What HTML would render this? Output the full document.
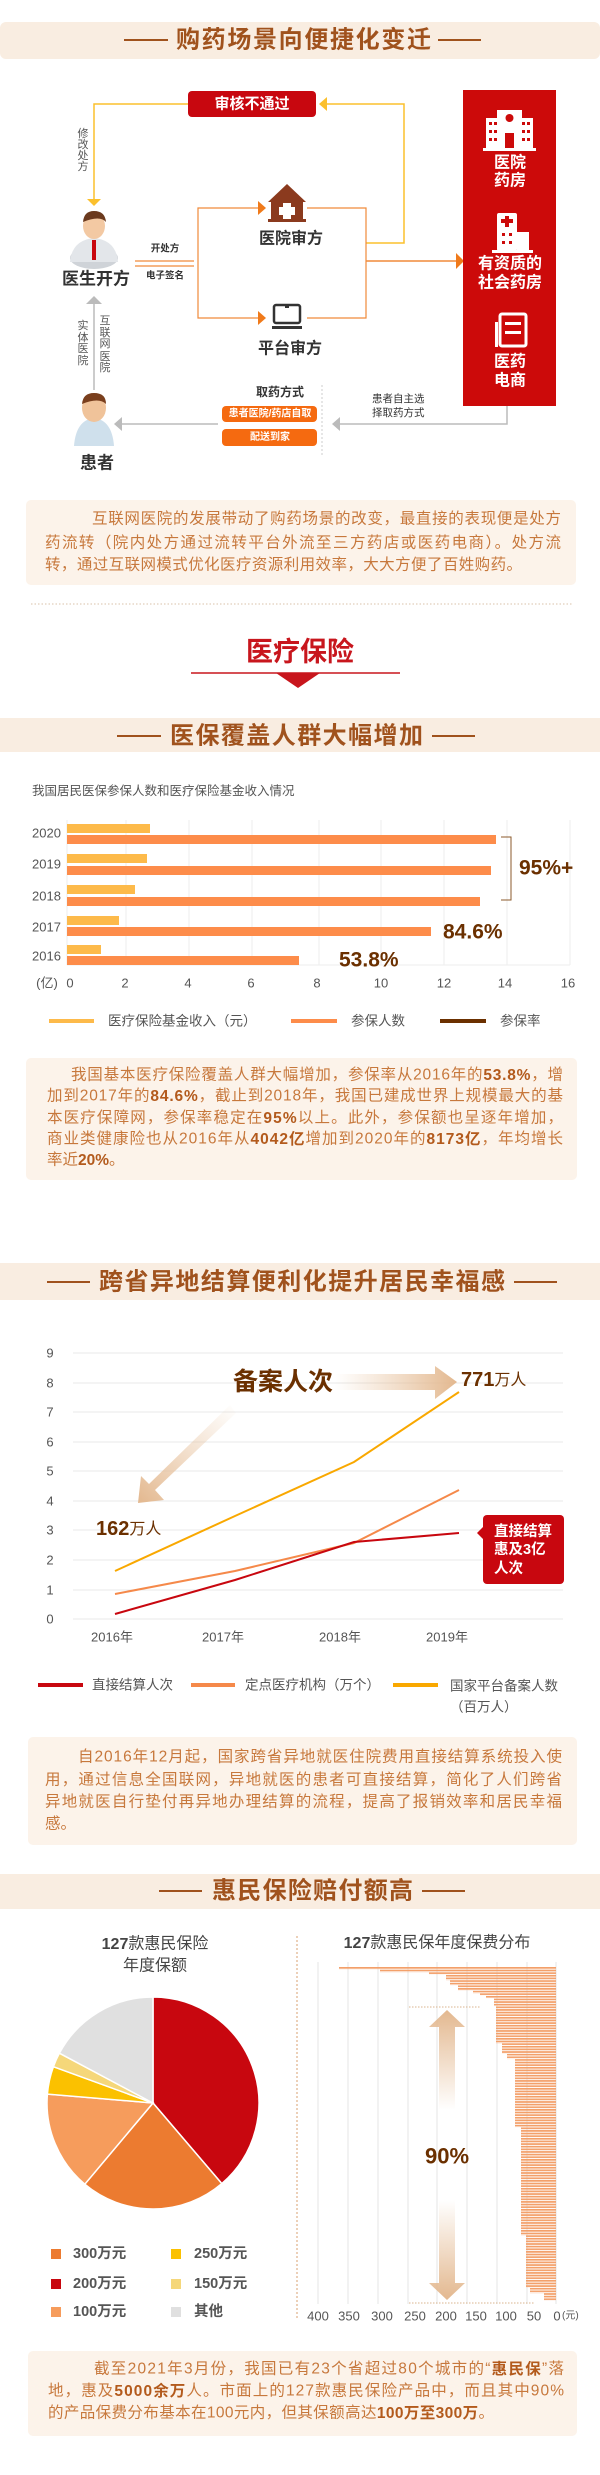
<!DOCTYPE html>
<html><head><meta charset="utf-8">
<style>
html,body{margin:0;padding:0;background:#fff;}
svg{display:block;}
text{font-family:"Liberation Sans","Noto Sans CJK SC",sans-serif;}
.h{font-weight:bold;fill:#a0521d;font-size:24px;}
.p{fill:#c7783c;font-size:15.5px;}
.b{font-weight:bold;fill:#b35a1c;}
.g{fill:#555;}
</style></head>
<body>
<svg width="600" height="2475" viewBox="0 0 600 2475" xmlns="http://www.w3.org/2000/svg" dominant-baseline="central">
<defs>
<pattern id="st" patternUnits="userSpaceOnUse" x="0" y="1967" width="10" height="2.63"><rect x="0" y="0" width="10" height="1.7" fill="#f3a06a"/></pattern>
<linearGradient id="ga" x1="0" x2="1" y1="0" y2="0"><stop offset="0" stop-color="#e8c4a0" stop-opacity="0"/><stop offset="1" stop-color="#e3b88f"/></linearGradient>
<linearGradient id="gd" x1="1" y1="0" x2="0" y2="1"><stop offset="0" stop-color="#e8c4a0" stop-opacity="0"/><stop offset="1" stop-color="#e3b88f"/></linearGradient>
<linearGradient id="gu" x1="0" y1="0" x2="0" y2="1"><stop offset="0" stop-color="#e3b88f"/><stop offset="1" stop-color="#e3b88f" stop-opacity="0"/></linearGradient>
<linearGradient id="gdn" x1="0" y1="1" x2="0" y2="0"><stop offset="0" stop-color="#e3b88f"/><stop offset="1" stop-color="#e3b88f" stop-opacity="0"/></linearGradient>
</defs>

<!-- ========== SECTION 1 ========== -->
<rect x="0" y="22" width="600" height="37" rx="6" fill="#f9ede1"/>
<line x1="124" y1="40" x2="168" y2="40" stroke="#a0521d" stroke-width="2"/>
<line x1="438" y1="40" x2="481" y2="40" stroke="#a0521d" stroke-width="2"/>
<text class="h" x="176" y="40" textLength="255" lengthAdjust="spacing">购药场景向便捷化变迁</text>

<polyline points="188,104 94,104 94,199" fill="none" stroke="#fbc02d" stroke-width="1.5"/>
<polygon points="87,199 101,199 94,206" fill="#fbc02d"/>
<polyline points="327,104 404,104 404,243 366,243" fill="none" stroke="#fbc02d" stroke-width="1.5"/>
<polygon points="319,104 327,97 327,111" fill="#fbc02d"/>
<rect x="188" y="91" width="128" height="26" rx="4" fill="#c8070f"/>
<text x="252" y="104" text-anchor="middle" font-size="15" font-weight="bold" fill="#fff">审核不通过</text>
<g font-size="11" class="g" text-anchor="middle">
<text x="83" y="134">修</text><text x="83" y="145">改</text><text x="83" y="156">处</text><text x="83" y="167">方</text>
<text x="83" y="326">实</text><text x="83" y="338">体</text><text x="83" y="349">医</text><text x="83" y="361">院</text>
<text x="105" y="321">互</text><text x="105" y="333">联</text><text x="105" y="344">网</text><text x="105" y="357">医</text><text x="105" y="368">院</text>
</g>

<ellipse cx="94" cy="258" rx="24" ry="11" fill="#cfd3d8"/>
<path d="M70,262 Q72,240 94,238 Q116,240 118,262 Z" fill="#e3e6ea"/>
<rect x="92" y="240" width="4" height="20" fill="#c8070f"/>
<ellipse cx="94" cy="226" rx="11" ry="13" fill="#f3c9a3"/>
<path d="M83,222 Q84,211 94,211 Q105,211 106,222 Q100,215 83,222Z" fill="#6b3a1e"/>
<text x="96" y="279" font-size="17" font-weight="bold" fill="#333" text-anchor="middle">医生开方</text>
<line x1="135" y1="261" x2="194" y2="261" stroke="#f08a3a" stroke-width="1.2"/>
<line x1="135" y1="266" x2="194" y2="266" stroke="#f08a3a" stroke-width="1.2"/>
<text x="165" y="249" font-size="9.5" fill="#333" text-anchor="middle" font-weight="bold">开处方</text>
<text x="165" y="276" font-size="9.5" fill="#333" text-anchor="middle" font-weight="bold">电子签名</text>

<polyline points="258,208 198,208 198,318 258,318" fill="none" stroke="#f08a3a" stroke-width="1.2"/>
<polyline points="307,208 366,208 366,318 307,318" fill="none" stroke="#f08a3a" stroke-width="1.2"/>
<polygon points="258,201 266,208 258,215" fill="#f07a1a"/>
<polygon points="258,311 266,318 258,325" fill="#f07a1a"/>
<polygon points="287,184 268,202 306,202" fill="#8b3a1e"/>
<rect x="271" y="200" width="32" height="20" fill="#8b3a1e"/>
<rect x="268" y="219" width="38" height="3" fill="#8b3a1e"/>
<rect x="283" y="203" width="8" height="16" fill="#fff"/><rect x="279" y="207" width="16" height="8" fill="#fff"/>
<text x="291" y="239" font-size="16" font-weight="bold" fill="#333" text-anchor="middle">医院审方</text>
<rect x="274" y="305" width="26" height="18" rx="2" fill="none" stroke="#333" stroke-width="2.5"/>
<rect x="272" y="326" width="30" height="3" fill="#333"/>
<rect x="285" y="306" width="4" height="2" fill="#333"/>
<text x="290" y="349" font-size="16" font-weight="bold" fill="#333" text-anchor="middle">平台审方</text>
<line x1="366" y1="261" x2="456" y2="261" stroke="#f08a3a" stroke-width="1.5"/>
<polygon points="456,253 464,261 456,269" fill="#f07a1a"/>

<rect x="463" y="90" width="93" height="316" fill="#cc0a0a"/>
<g fill="#fff">
<rect x="486" y="118" width="14" height="30"/><rect x="519" y="118" width="14" height="30"/>
<rect x="497" y="110" width="25" height="38"/><rect x="483" y="148" width="53" height="3"/>
</g>
<rect x="505" y="133" width="9" height="15" fill="#cc0a0a"/>
<circle cx="509.5" cy="118" r="4" fill="#cc0a0a"/>
<g fill="#cc0a0a"><rect x="489" y="122" width="3" height="3"/><rect x="494" y="122" width="3" height="3"/><rect x="489" y="130" width="3" height="3"/><rect x="494" y="130" width="3" height="3"/><rect x="489" y="138" width="3" height="3"/><rect x="494" y="138" width="3" height="3"/><rect x="522" y="122" width="3" height="3"/><rect x="527" y="122" width="3" height="3"/><rect x="522" y="130" width="3" height="3"/><rect x="527" y="130" width="3" height="3"/><rect x="522" y="138" width="3" height="3"/><rect x="527" y="138" width="3" height="3"/></g>
<text x="510" y="163" font-size="16" font-weight="bold" fill="#fff" text-anchor="middle">医院</text>
<text x="510" y="181" font-size="16" font-weight="bold" fill="#fff" text-anchor="middle">药房</text>
<rect x="497" y="213" width="20" height="38" rx="2" fill="#fff"/>
<rect x="517" y="232" width="12" height="19" fill="#fff"/>
<rect x="492" y="250" width="41" height="3" fill="#fff"/>
<rect x="505" y="216" width="4" height="11" fill="#cc0a0a"/><rect x="501" y="219" width="12" height="4" fill="#cc0a0a"/>
<g fill="#cc0a0a"><rect x="502" y="233" width="3" height="3"/><rect x="509" y="233" width="3" height="3"/><rect x="502" y="241" width="3" height="3"/><rect x="509" y="241" width="3" height="3"/></g>
<text x="510" y="264" font-size="16" font-weight="bold" fill="#fff" text-anchor="middle">有资质的</text>
<text x="510" y="283" font-size="16" font-weight="bold" fill="#fff" text-anchor="middle">社会药房</text>
<rect x="500" y="314" width="26" height="32" rx="2" fill="none" stroke="#fff" stroke-width="3"/>
<rect x="495" y="322" width="3" height="25" fill="#fff"/>
<rect x="505" y="322" width="16" height="3" fill="#fff"/><rect x="505" y="331" width="16" height="3" fill="#fff"/>
<text x="510" y="362" font-size="16" font-weight="bold" fill="#fff" text-anchor="middle">医药</text>
<text x="510" y="381" font-size="16" font-weight="bold" fill="#fff" text-anchor="middle">电商</text>

<line x1="94" y1="390" x2="94" y2="304" stroke="#bbb" stroke-width="1.5"/>
<polygon points="86,304 94,296 102,304" fill="#bbb"/>
<path d="M74,446 Q76,420 94,418 Q112,420 114,446Z" fill="#cfe0ec"/>
<ellipse cx="94" cy="408" rx="12" ry="14" fill="#f0c39a"/>
<path d="M82,404 Q83,393 94,393 Q106,393 106,404 Q99,397 82,404Z" fill="#7a3f1d"/>
<text x="97" y="463" font-size="17" font-weight="bold" fill="#333" text-anchor="middle">患者</text>
<text x="280" y="392" font-size="12" font-weight="bold" fill="#333" text-anchor="middle">取药方式</text>
<rect x="222" y="406" width="95" height="16" rx="4" fill="#f56a10"/>
<text x="270" y="414" font-size="10" fill="#fff" text-anchor="middle" font-weight="bold">患者医院/药店自取</text>
<rect x="222" y="429" width="95" height="17" rx="4" fill="#f56a10"/>
<text x="270" y="437.5" font-size="10" fill="#fff" text-anchor="middle" font-weight="bold">配送到家</text>
<line x1="322" y1="385" x2="322" y2="457" stroke="#ccc" stroke-dasharray="2,2"/>
<polyline points="507,406 507,424 340,424" fill="none" stroke="#bbb" stroke-width="1.5"/>
<polygon points="340,417 332,424 340,431" fill="#bbb"/>
<line x1="218" y1="424" x2="122" y2="424" stroke="#bbb" stroke-width="1.5"/>
<polygon points="122,417 114,424 122,431" fill="#bbb"/>
<text x="372" y="399" font-size="10.5" fill="#333">患者自主选</text>
<text x="372" y="413" font-size="10.5" fill="#333">择取药方式</text>

<rect x="26" y="500" width="550" height="85" rx="5" fill="#fcf3ea"/>
<text class="p" x="92" y="519" textLength="469" lengthAdjust="spacing">互联网医院的发展带动了购药场景的改变，最直接的表现便是处方</text>
<text class="p" x="45" y="543" textLength="516" lengthAdjust="spacing">药流转（院内处方通过流转平台外流至三方药店或医药电商）。处方流</text>
<text class="p" x="45" y="565" textLength="477" lengthAdjust="spacing">转，通过互联网模式优化医疗资源利用效率，大大方便了百姓购药。</text>
<line x1="31" y1="604" x2="572" y2="604" stroke="#d9c2a8" stroke-dasharray="1.5,2"/>

<!-- ========== SECTION 2 ========== -->
<text x="300" y="652" font-size="27" font-weight="bold" fill="#c8161d" text-anchor="middle">医疗保险</text>
<line x1="191" y1="673" x2="400" y2="673" stroke="#c8161d" stroke-width="1.5"/>
<polygon points="276,673 320,673 298,688" fill="#c8161d"/>
<rect x="0" y="718" width="600" height="34" fill="#f9ede1"/>
<line x1="117" y1="736" x2="161" y2="736" stroke="#a0521d" stroke-width="2"/>
<line x1="432" y1="736" x2="475" y2="736" stroke="#a0521d" stroke-width="2"/>
<text class="h" x="170" y="736" textLength="253" lengthAdjust="spacing">医保覆盖人群大幅增加</text>
<text x="32" y="791" font-size="12.5" class="g">我国居民医保参保人数和医疗保险基金收入情况</text>
<g stroke="#eee" stroke-width="1">
<line x1="67" y1="820" x2="67" y2="965"/><line x1="126" y1="820" x2="126" y2="965"/><line x1="189" y1="820" x2="189" y2="965"/><line x1="252" y1="820" x2="252" y2="965"/><line x1="319" y1="820" x2="319" y2="965"/><line x1="381" y1="820" x2="381" y2="965"/><line x1="444" y1="820" x2="444" y2="965"/><line x1="507" y1="820" x2="507" y2="965"/><line x1="570" y1="820" x2="570" y2="965"/>
<line x1="67" y1="965" x2="570" y2="965"/>
</g>
<g fill="#fdba4a">
<rect x="67" y="824" width="83" height="9"/><rect x="67" y="854" width="80" height="9"/><rect x="67" y="885" width="68" height="9"/><rect x="67" y="916" width="52" height="9"/><rect x="67" y="945" width="34" height="9"/>
</g>
<g fill="#fd8c4a">
<rect x="67" y="835" width="429" height="9"/><rect x="67" y="866" width="424" height="9"/><rect x="67" y="897" width="413" height="9"/><rect x="67" y="927" width="364" height="9"/><rect x="67" y="956" width="232" height="9"/>
</g>
<g font-size="13" class="g">
<text x="32" y="833">2020</text><text x="32" y="864">2019</text><text x="32" y="896">2018</text><text x="32" y="927">2017</text><text x="32" y="956">2016</text>
</g>
<g font-size="13" class="g" text-anchor="middle">
<text x="47" y="983">(亿)</text><text x="70" y="983">0</text><text x="125" y="983">2</text><text x="188" y="983">4</text><text x="251" y="983">6</text><text x="317" y="983">8</text><text x="381" y="983">10</text><text x="444" y="983">12</text><text x="505" y="983">14</text><text x="568" y="983">16</text>
</g>
<polyline points="501,837 511,837 511,900 501,900" fill="none" stroke="#8b5a2b" stroke-width="1"/>
<text x="519" y="868" font-size="21" font-weight="bold" fill="#6b3000">95%+</text>
<text x="443" y="932" font-size="21" font-weight="bold" fill="#6b3000">84.6%</text>
<text x="339" y="960" font-size="21" font-weight="bold" fill="#6b3000">53.8%</text>
<rect x="49" y="1019" width="45" height="4" fill="#fdba4a"/>
<text x="108" y="1021" font-size="13.5" class="g">医疗保险基金收入（元）</text>
<rect x="291" y="1019" width="46" height="4" fill="#fd8c4a"/>
<text x="351" y="1021" font-size="13.5" class="g">参保人数</text>
<rect x="440" y="1019" width="46" height="4" fill="#6b3000"/>
<text x="500" y="1021" font-size="13.5" class="g">参保率</text>

<rect x="26" y="1058" width="551" height="122" rx="5" fill="#fcf3ea"/>
<text class="p" x="71" y="1075" textLength="492" lengthAdjust="spacing">我国基本医疗保险覆盖人群大幅增加，参保率从2016年的<tspan class="b">53.8%</tspan>，增</text>
<text class="p" x="47" y="1096" textLength="516" lengthAdjust="spacing">加到2017年的<tspan class="b">84.6%</tspan>，截止到2018年，我国已建成世界上规模最大的基</text>
<text class="p" x="47" y="1118" textLength="516" lengthAdjust="spacing">本医疗保障网，参保率稳定在<tspan class="b">95%</tspan>以上。此外，参保额也呈逐年增加，</text>
<text class="p" x="47" y="1139" textLength="516" lengthAdjust="spacing">商业类健康险也从2016年从<tspan class="b">4042亿</tspan>增加到2020年的<tspan class="b">8173亿</tspan>，年均增长</text>
<text class="p" x="47" y="1160">率近<tspan class="b">20%</tspan>。</text>

<!-- ========== SECTION 3 ========== -->
<rect x="0" y="1263" width="600" height="37" fill="#f9ede1"/>
<line x1="47" y1="1282" x2="90" y2="1282" stroke="#a0521d" stroke-width="2"/>
<line x1="514" y1="1282" x2="557" y2="1282" stroke="#a0521d" stroke-width="2"/>
<text class="h" x="99" y="1282" textLength="406" lengthAdjust="spacing">跨省异地结算便利化提升居民幸福感</text>
<g stroke="#e8e8e8" stroke-width="1">
<line x1="73" y1="1353" x2="563" y2="1353"/><line x1="73" y1="1383" x2="563" y2="1383"/><line x1="73" y1="1412" x2="563" y2="1412"/><line x1="73" y1="1442" x2="563" y2="1442"/><line x1="73" y1="1471" x2="563" y2="1471"/><line x1="73" y1="1501" x2="563" y2="1501"/><line x1="73" y1="1530" x2="563" y2="1530"/><line x1="73" y1="1560" x2="563" y2="1560"/><line x1="73" y1="1590" x2="563" y2="1590"/><line x1="73" y1="1619" x2="563" y2="1619"/>
</g>
<g font-size="13" class="g" text-anchor="middle">
<text x="50" y="1353">9</text><text x="50" y="1383">8</text><text x="50" y="1412">7</text><text x="50" y="1442">6</text><text x="50" y="1471">5</text><text x="50" y="1501">4</text><text x="50" y="1530">3</text><text x="50" y="1560">2</text><text x="50" y="1590">1</text><text x="50" y="1619">0</text>
<text x="112" y="1637">2016年</text><text x="223" y="1637">2017年</text><text x="340" y="1637">2018年</text><text x="447" y="1637">2019年</text>
</g>
<polygon points="335,1374 435,1374 435,1366 457,1382 435,1399 435,1390 335,1390" fill="url(#ga)"/>
<polygon points="230,1405 236,1413 155,1490 164,1500 138,1503 141,1476 149,1484" fill="url(#gd)"/>
<polyline points="115,1571 235,1516 354,1462 459,1392" fill="none" stroke="#f9a800" stroke-width="2"/>
<polyline points="115,1594 235,1571 354,1543 459,1490" fill="none" stroke="#f5894a" stroke-width="2"/>
<polyline points="115,1614 235,1580 354,1542 459,1533" fill="none" stroke="#c8070f" stroke-width="2"/>
<text x="283" y="1382" font-size="25" font-weight="bold" fill="#6b3000" text-anchor="middle">备案人次</text>
<text x="461" y="1380" font-size="20" font-weight="bold" fill="#6b3000">771<tspan font-size="16" font-weight="normal">万人</tspan></text>
<text x="96" y="1529" font-size="20" font-weight="bold" fill="#6b3000">162<tspan font-size="16" font-weight="normal">万人</tspan></text>
<rect x="483" y="1515" width="81" height="69" rx="4" fill="#c8070f"/>
<polygon points="483,1527 477,1533 483,1539" fill="#c8070f"/>
<text x="494" y="1532" font-size="14.5" font-weight="bold" fill="#fff">直接结算</text>
<text x="494" y="1550" font-size="14.5" font-weight="bold" fill="#fff">惠及3亿</text>
<text x="494" y="1569" font-size="14.5" font-weight="bold" fill="#fff">人次</text>
<rect x="38" y="1683" width="45" height="4" fill="#c8070f"/>
<text x="92" y="1685" font-size="13.5" class="g">直接结算人次</text>
<rect x="191" y="1683" width="44" height="4" fill="#f5894a"/>
<text x="245" y="1685" font-size="13.5" class="g">定点医疗机构（万个）</text>
<rect x="393" y="1683" width="45" height="4" fill="#f9a800"/>
<text x="450" y="1686" font-size="13.5" class="g">国家平台备案人数</text>
<text x="450" y="1707" font-size="13.5" class="g">（百万人）</text>

<rect x="28" y="1737" width="549" height="108" rx="5" fill="#fcf3ea"/>
<text class="p" x="78" y="1757" textLength="484" lengthAdjust="spacing">自2016年12月起，国家跨省异地就医住院费用直接结算系统投入使</text>
<text class="p" x="45" y="1780" textLength="517" lengthAdjust="spacing">用，通过信息全国联网，异地就医的患者可直接结算，简化了人们跨省</text>
<text class="p" x="45" y="1802" textLength="517" lengthAdjust="spacing">异地就医自行垫付再异地办理结算的流程，提高了报销效率和居民幸福</text>
<text class="p" x="45" y="1824">感。</text>

<!-- ========== SECTION 4 ========== -->
<rect x="0" y="1874" width="600" height="35" fill="#f9ede1"/>
<line x1="159" y1="1891" x2="202" y2="1891" stroke="#a0521d" stroke-width="2"/>
<line x1="422" y1="1891" x2="465" y2="1891" stroke="#a0521d" stroke-width="2"/>
<text class="h" x="212" y="1891" textLength="201" lengthAdjust="spacing">惠民保险赔付额高</text>
<text x="155" y="1944" font-size="16" fill="#444" text-anchor="middle"><tspan font-weight="bold">127</tspan>款惠民保险</text>
<text x="155" y="1966" font-size="16" fill="#444" text-anchor="middle">年度保额</text>
<g stroke="#fff" stroke-width="1.5">
<path d="M153,2103 L153,1997 A106,106 0 0 1 221.8,2183.6 Z" fill="#c8070f"/>
<path d="M153,2103 L221.8,2183.6 A106,106 0 0 1 84.8,2184.2 Z" fill="#ec7b30"/>
<path d="M153,2103 L84.8,2184.2 A106,106 0 0 1 47.4,2094.1 Z" fill="#f69c5c"/>
<path d="M153,2103 L47.4,2094.1 A106,106 0 0 1 53.4,2066.7 Z" fill="#fbc100"/>
<path d="M153,2103 L53.4,2066.7 A106,106 0 0 1 59.4,2053.2 Z" fill="#f5d77a"/>
<path d="M153,2103 L59.4,2053.2 A106,106 0 0 1 153,1997 Z" fill="#e0e0e0"/>
</g>
<rect x="51" y="2249" width="10" height="10" fill="#ec7b30"/><text x="73" y="2254" font-size="14.5" font-weight="bold" fill="#555">300万元</text>
<rect x="51" y="2279" width="10" height="10" fill="#c8070f"/><text x="73" y="2284" font-size="14.5" font-weight="bold" fill="#555">200万元</text>
<rect x="51" y="2307" width="10" height="10" fill="#f69c5c"/><text x="73" y="2312" font-size="14.5" font-weight="bold" fill="#555">100万元</text>
<rect x="171" y="2249" width="10" height="10" fill="#fbc100"/><text x="194" y="2254" font-size="14.5" font-weight="bold" fill="#555">250万元</text>
<rect x="171" y="2279" width="10" height="10" fill="#f5d77a"/><text x="194" y="2284" font-size="14.5" font-weight="bold" fill="#555">150万元</text>
<rect x="171" y="2307" width="10" height="10" fill="#e0e0e0"/><text x="194" y="2312" font-size="14.5" font-weight="bold" fill="#555">其他</text>
<line x1="297" y1="1936" x2="297" y2="2319" stroke="#d9a070" stroke-dasharray="2,2"/>

<text x="437" y="1943" font-size="16" fill="#444" text-anchor="middle"><tspan font-weight="bold">127</tspan>款惠民保年度保费分布</text>
<g stroke="#e6e6e6" stroke-width="1">
<line x1="318" y1="1962" x2="318" y2="2304"/><line x1="348" y1="1962" x2="348" y2="2304"/><line x1="378" y1="1962" x2="378" y2="2304"/><line x1="408" y1="1962" x2="408" y2="2304"/><line x1="437" y1="1962" x2="437" y2="2304"/><line x1="467" y1="1962" x2="467" y2="2304"/><line x1="497" y1="1962" x2="497" y2="2304"/><line x1="527" y1="1962" x2="527" y2="2304"/><line x1="556" y1="1962" x2="556" y2="2304"/>
</g>
<g fill="url(#st)">
<rect x="339" y="1967" width="217" height="2.63"/>
<rect x="380" y="1969.6" width="176" height="2.63"/>
<rect x="429" y="1972.3" width="127" height="2.63"/>
<rect x="446" y="1974.9" width="110" height="5.26"/>
<rect x="450" y="1980.2" width="106" height="5.26"/>
<rect x="458" y="1985.4" width="98" height="5.26"/>
<rect x="473" y="1990.7" width="83" height="2.63"/>
<rect x="480" y="1993.3" width="76" height="2.63"/>
<rect x="486" y="1995.9" width="70" height="2.63"/>
<rect x="494" y="1998.6" width="62" height="7.89"/>
<rect x="496" y="2006.5" width="60" height="36.8"/>
<rect x="502" y="2043.3" width="54" height="10.5"/>
<rect x="507" y="2053.8" width="49" height="5.26"/>
<rect x="515" y="2059.1" width="41" height="68.4"/>
<rect x="521" y="2127.4" width="35" height="107.9"/>
<rect x="526" y="2235.3" width="30" height="52.6"/>
<rect x="530" y="2287.9" width="26" height="5.26"/>
<rect x="544" y="2293.1" width="12" height="7.9"/>
</g>
<line x1="409" y1="2007" x2="480" y2="2007" stroke="#d9b48f" stroke-dasharray="1.5,1.5"/>
<line x1="409" y1="2303" x2="535" y2="2303" stroke="#d9b48f" stroke-dasharray="1.5,1.5"/>
<polygon points="447,2010 465,2027 455,2027 455,2110 439,2110 439,2027 429,2027" fill="url(#gu)"/>
<polygon points="447,2300 465,2283 455,2283 455,2200 439,2200 439,2283 429,2283" fill="url(#gdn)"/>
<text x="447" y="2156" font-size="22" font-weight="bold" fill="#6b3000" text-anchor="middle">90%</text>
<g font-size="13" class="g" text-anchor="middle">
<text x="318" y="2316">400</text><text x="349" y="2316">350</text><text x="382" y="2316">300</text><text x="415" y="2316">250</text><text x="446" y="2316">200</text><text x="476" y="2316">150</text><text x="506" y="2316">100</text><text x="534" y="2316">50</text><text x="557" y="2316">0</text>
</g>
<text x="562" y="2316" font-size="10" class="g">(元)</text>

<rect x="28" y="2351" width="549" height="85" rx="5" fill="#fcf3ea"/>
<text class="p" x="94" y="2369" textLength="470" lengthAdjust="spacing">截至2021年3月份，我国已有23个省超过80个城市的“<tspan class="b">惠民保</tspan>”落</text>
<text class="p" x="48" y="2391" textLength="516" lengthAdjust="spacing">地，惠及<tspan class="b">5000余万</tspan>人。市面上的127款惠民保险产品中，而且其中90%</text>
<text class="p" x="48" y="2413" textLength="446" lengthAdjust="spacing">的产品保费分布基本在100元内，但其保额高达<tspan class="b">100万至300万</tspan>。</text>
</svg>
</body></html>
